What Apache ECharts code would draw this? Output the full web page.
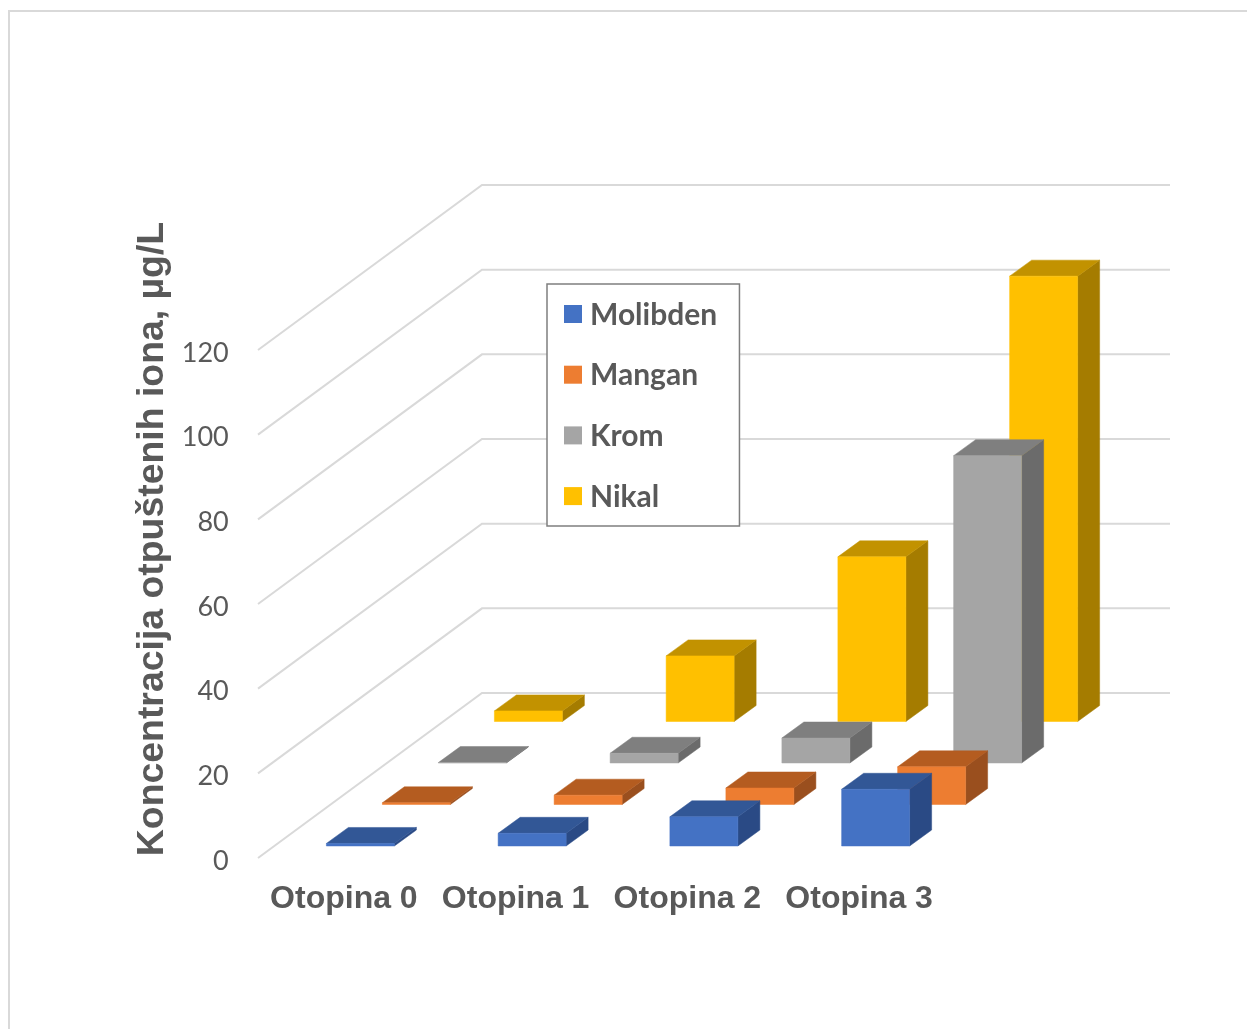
<!DOCTYPE html>
<html>
<head>
<meta charset="utf-8">
<style>html,body{margin:0;padding:0;background:#fff;overflow:hidden}#c{width:1247px;height:1029px}</style>
<script src="https://cdn.jsdelivr.net/npm/echarts@6/dist/echarts.min.js"></script>
</head>
<body>
<div id="c"></div>
<script>
const categories = ['Otopina 0', 'Otopina 1', 'Otopina 2', 'Otopina 3'];
const seriesNames = ['Molibden', 'Mangan', 'Krom', 'Nikal'];
const molibden = [0.6, 3.0, 6.9, 13.4];
const mangan = [0.4, 2.2, 3.9, 8.9];
const krom = [0.1, 2.3, 5.9, 72.6];
const nikal = [2.5, 15.5, 38.9, 105.2];
const yTicks = [0, 20, 40, 60, 80, 100, 120];
const seriesValues = [molibden, mangan, krom, nikal];

// projection of the depth axis and face shades
const WALL = [224, -165], ROW = [56, -41.5], FIRST = [16.5, -12], DEPTH = [22, -16], BAR_W = 68;
const shades = [
  ['#4472C4', '#325796', '#2A4A85'],
  ['#ED7D31', '#B45C20', '#9A4F1E'],
  ['#A5A5A5', '#7F7F7F', '#6B6B6B'],
  ['#FFC000', '#C29200', '#A57C00']
];
const LABEL = '#595959';

function face(pts, fill) {
  return { type: 'polygon', shape: { points: pts }, style: { fill: fill, stroke: fill, lineWidth: 0.5 } };
}
function barRenderer(s) {
  return function (params, api) {
    const base = api.coord([api.value(0), 0]);
    const top = api.coord([api.value(0), api.value(1)]);
    const ox = FIRST[0] + ROW[0] * s, oy = FIRST[1] + ROW[1] * s;
    const x0 = base[0] + ox - BAR_W / 2, x1 = x0 + BAR_W;
    const yb = base[1] + oy, yt = top[1] + oy;
    const [dx, dy] = DEPTH;
    return { type: 'group', children: [
      face([[x1, yb], [x1 + dx, yb + dy], [x1 + dx, yt + dy], [x1, yt]], shades[s][2]),
      face([[x0, yt], [x1, yt], [x1 + dx, yt + dy], [x0 + dx, yt + dy]], shades[s][1]),
      face([[x0, yb], [x1, yb], [x1, yt], [x0, yt]], shades[s][0])
    ] };
  };
}
function wallRenderer(params, api) {
  const r = params.coordSys;
  const p = api.coord([0, api.value(0)]);
  const x = r.x, y = p[1];
  return { type: 'polyline', shape: { points: [[x, y], [x + WALL[0], y + WALL[1]], [x + r.width + WALL[0] + 1, y + WALL[1]]] },
    style: { fill: 'none', stroke: '#D9D9D9', lineWidth: 2 } };
}

const chart = echarts.init(document.getElementById('c'), null, { renderer: 'canvas' });
chart.setOption({
  animation: false,
  backgroundColor: '#fff',
  graphic: [{ type: 'polyline', silent: true, z: 0,
    shape: { points: [[9, 1029], [9, 11], [1247, 11]] },
    style: { fill: 'none', stroke: '#D9D9D9', lineWidth: 2 } }],
  grid: { left: 258, top: 350, width: 687, height: 508 },
  legend: {
    data: seriesNames, orient: 'vertical', left: 547, top: 284,
    padding: [16, 22, 14, 17], itemGap: 30.7, itemWidth: 18, itemHeight: 18,
    icon: 'rect', backgroundColor: '#fff', borderColor: '#7F7F7F', borderWidth: 1.5, borderRadius: 0, z: 20,
    formatter: n => `{a|${n}}{b| }`,
    textStyle: { padding: [0, 0, 0, 3], rich: {
      a: { fontFamily: 'Lato', fontWeight: 'bold', fontSize: 30, lineHeight: 30, color: LABEL, verticalAlign: 'bottom' },
      b: { fontSize: 1, lineHeight: 32 }
    } }
  },
  xAxis: {
    type: 'category', data: categories,
    axisLine: { show: false }, axisTick: { show: false }, splitLine: { show: false },
    axisLabel: { margin: 25, fontFamily: 'Liberation Sans', fontWeight: 'bold', fontSize: 32, color: LABEL, interval: 0 }
  },
  yAxis: {
    type: 'value', min: 0, max: 120, interval: 20,
    axisLine: { show: false }, axisTick: { show: false }, splitLine: { show: false },
    axisLabel: { margin: 29, formatter: v => `{a|${v}}{b| }`, rich: {
      a: { fontFamily: 'Lato', fontSize: 27, lineHeight: 27, color: LABEL, verticalAlign: 'bottom' },
      b: { fontSize: 1, lineHeight: 33 }
    } },
    name: 'Koncentracija otpuštenih iona, µg/L', nameLocation: 'middle', nameGap: 80, nameRotate: 90,
    nameTextStyle: { fontFamily: 'Liberation Sans', fontWeight: 'bold', fontSize: 37.4, color: LABEL, padding: [0, 0, 0, 130] }
  },
  series: [
    { type: 'custom', name: 'walls', z: 1, silent: true, data: yTicks.map(v => [v]), renderItem: wallRenderer,
      encode: { y: 0 }, tooltip: { show: false } }
  ].concat(seriesNames.map((name, s) => ({
    type: 'custom', name: name, z: 10 - s, itemStyle: { color: shades[s][0] },
    data: categories.map((c, i) => [i, seriesValues[s][i]]),
    encode: { x: 0, y: 1 }, renderItem: barRenderer(s)
  })))
});
</script>
</body>
</html>
